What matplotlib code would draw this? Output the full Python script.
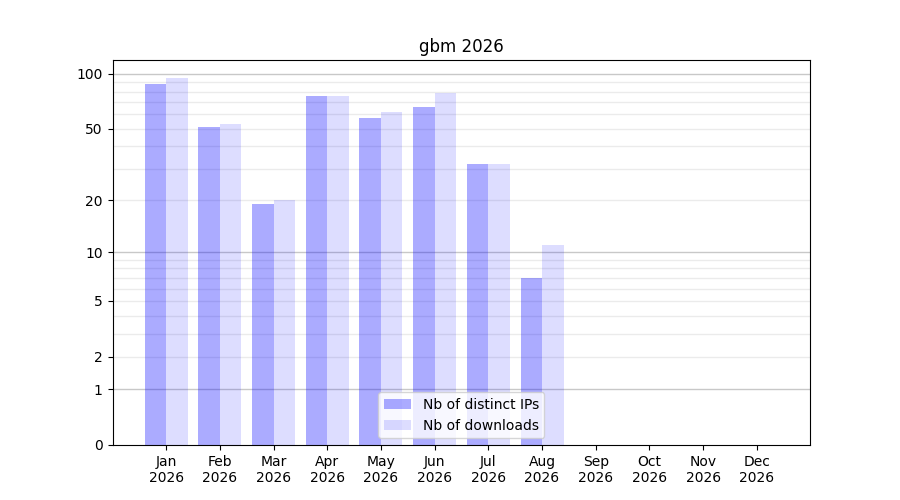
import numpy as np
import matplotlib
matplotlib.use("Agg")
import matplotlib.pyplot as plt

months = ["Jan", "Feb", "Mar", "Apr", "May", "Jun", "Jul", "Aug", "Sep", "Oct", "Nov", "Dec"]
year = "2026"
distinct_ips = [88, 51, 19, 76, 57, 66, 32, 7, 0, 0, 0, 0]
downloads = [95, 53, 20, 76, 62, 79, 32, 11, 0, 0, 0, 0]
y_ticks = [0, 1, 2, 5, 10, 20, 50, 100]
major_grid = [1, 10, 100]
minor_grid = [2, 3, 4, 5, 6, 7, 8, 9, 20, 30, 40, 50, 60, 70, 80, 90]

fig, ax = plt.subplots(figsize=(9, 5), dpi=100)

def fwd(x):
    return np.log10(1 + np.clip(x, -0.999, None))

def inv(y):
    return 10 ** y - 1

ax.set_yscale("function", functions=(fwd, inv))

x = np.arange(len(months))
w = 0.4
ax.bar(x - w / 2, distinct_ips, width=w, color="blue", alpha=0.33, linewidth=0,
       label="Nb of distinct IPs", zorder=2)
ax.bar(x + w / 2, downloads, width=w, color="blue", alpha=0.135, linewidth=0,
       label="Nb of downloads", zorder=2)

for v in minor_grid:
    ax.axhline(v, color="#ebebeb", linewidth=1, zorder=1)
for v in major_grid:
    ax.axhline(v, color="#c8c8c8", linewidth=1, zorder=1)

ax.set_ylim(0, 119)
ax.set_yticks(y_ticks)
ax.set_yticklabels([str(t) for t in y_ticks])
ax.yaxis.set_minor_locator(matplotlib.ticker.NullLocator())

ax.set_xticks(x)
ax.set_xticklabels([f"{m}\n{year}" for m in months])
ax.set_xlim(-1.0, 11.99)

ax.set_title("gbm 2026")
ax.legend(loc="lower center")

fig.savefig("out.png", dpi=100)
